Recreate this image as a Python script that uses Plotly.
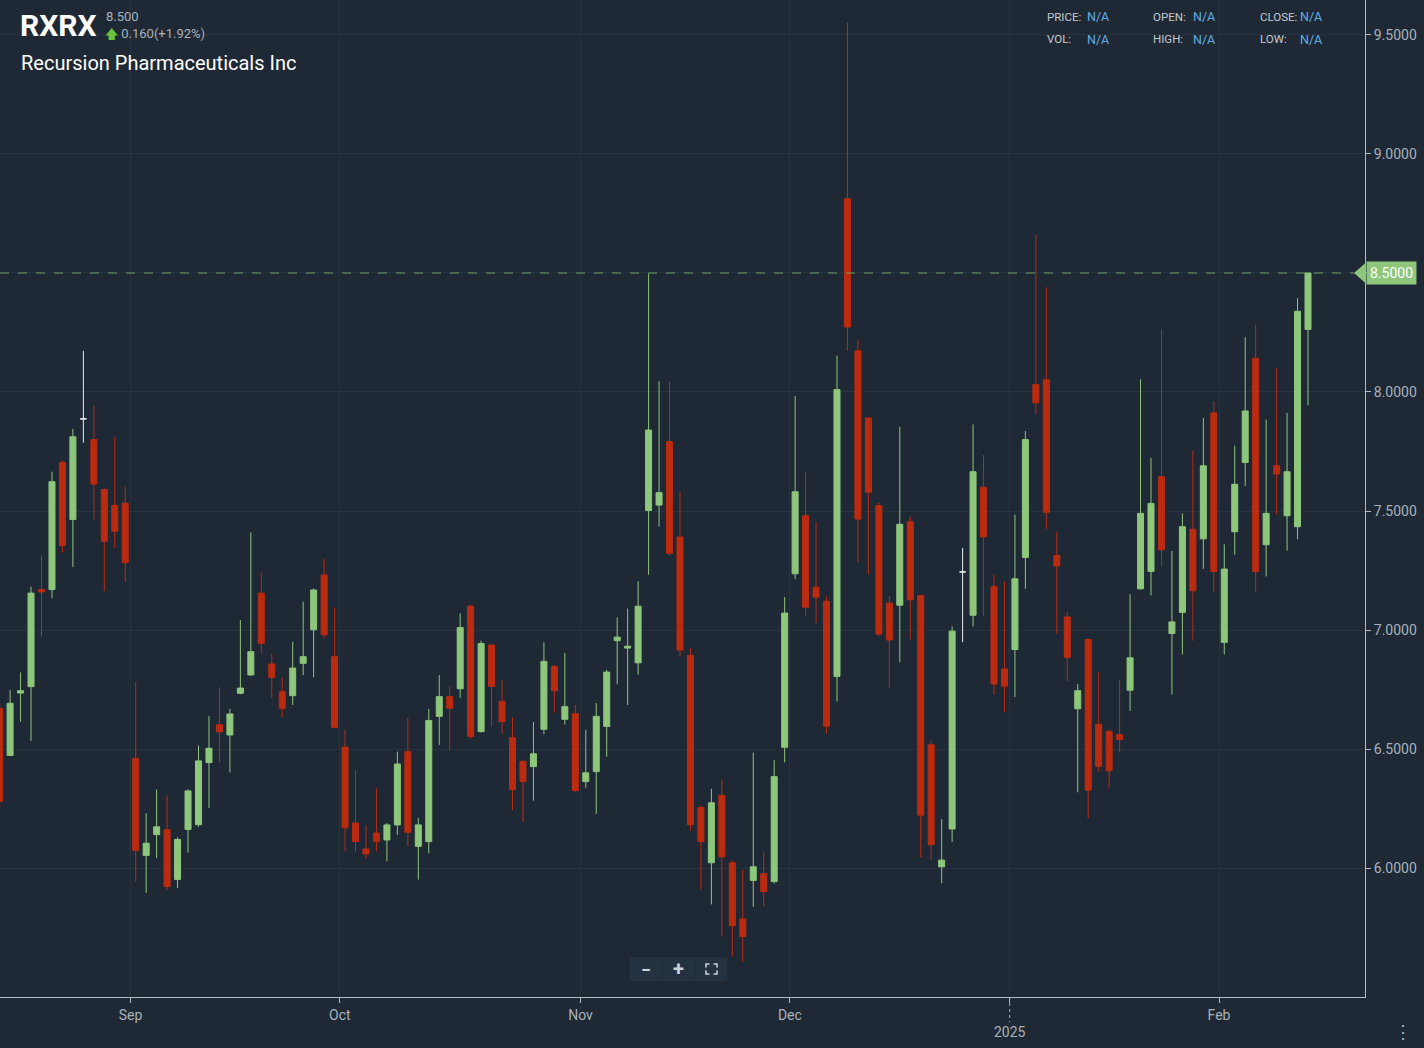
import pandas as pd
import plotly.graph_objects as go

# ---------------- data ----------------
holidays = ["2024-09-02", "2024-11-28", "2024-12-25", "2025-01-01", "2025-01-09", "2025-01-20"]
dates = [d for d in pd.bdate_range("2024-08-14", "2025-02-13") if d.strftime("%Y-%m-%d") not in holidays]

opens = [6.67, 6.473, 6.735, 6.762, 7.170, 7.170, 7.703, 7.464, 7.887, 7.800,
         7.590, 7.523, 7.533, 6.461, 6.053, 6.140, 6.161, 5.952, 6.162, 6.182,
         6.443, 6.602, 6.559, 6.734, 6.811, 7.155, 6.857, 6.741, 6.724, 6.860,
         7.001, 7.231, 6.888, 6.508, 6.189, 6.080, 6.147, 6.118, 6.181, 6.489,
         6.091, 6.111, 6.637, 6.720, 6.753, 7.100, 6.573, 6.937, 6.700, 6.547,
         6.448, 6.426, 6.583, 6.847, 6.625, 6.648, 6.363, 6.405, 6.595, 6.955,
         6.924, 6.862, 7.502, 7.525, 7.792, 7.391, 6.894, 6.254, 6.022, 6.305,
         6.022, 5.786, 5.948, 5.976, 5.943, 6.507, 7.236, 7.480, 7.180, 7.121,
         6.805, 8.812, 8.173, 7.891, 7.522, 7.113, 7.104, 7.455, 7.145, 6.518,
         6.005, 6.164, 7.244, 7.062, 7.600, 7.182, 6.836, 6.918, 7.305, 8.031,
         8.051, 7.313, 7.055, 6.669, 6.960, 6.604, 6.573, 6.560, 6.747, 7.173,
         7.246, 7.644, 6.985, 7.074, 7.423, 7.383, 7.912, 6.948, 7.413, 7.704,
         8.142, 7.358, 7.690, 7.480, 7.434, 8.263]
highs = [6.69, 6.747, 6.822, 7.182, 7.313, 7.665, 7.712, 7.845, 8.173, 7.943,
         7.595, 7.812, 7.602, 6.782, 6.230, 6.330, 6.305, 6.129, 6.330, 6.515,
         6.639, 6.759, 6.668, 7.042, 7.410, 7.242, 6.899, 6.800, 6.951, 7.119,
         7.175, 7.298, 7.095, 6.580, 6.412, 6.181, 6.335, 6.189, 6.489, 6.630,
         6.210, 6.668, 6.811, 6.762, 7.070, 7.105, 6.955, 6.943, 6.790, 6.633,
         6.452, 6.613, 6.948, 6.852, 6.903, 6.685, 6.580, 6.693, 6.832, 7.053,
         7.090, 7.205, 8.496, 8.045, 8.042, 7.581, 6.924, 6.263, 6.333, 6.372,
         6.032, 5.993, 6.485, 6.066, 6.453, 7.138, 7.983, 7.663, 7.455, 7.141,
         8.153, 9.552, 8.220, 7.895, 7.534, 7.143, 7.854, 7.476, 7.148, 6.536,
         6.205, 7.015, 7.345, 7.864, 7.735, 7.233, 7.204, 7.485, 7.836, 8.660,
         8.440, 7.413, 7.076, 6.773, 6.965, 6.824, 6.582, 6.791, 7.150, 8.053,
         7.723, 8.263, 7.332, 7.490, 7.753, 7.891, 7.962, 7.360, 7.774, 8.230,
         8.282, 7.884, 8.101, 7.912, 8.394, 8.500]
lows = [6.25, 6.470, 6.615, 6.534, 6.972, 7.134, 7.325, 7.265, 7.787, 7.464,
        7.163, 7.344, 7.202, 5.941, 5.895, 6.042, 5.907, 5.915, 6.065, 6.173,
        6.252, 6.443, 6.402, 6.730, 6.808, 6.902, 6.713, 6.633, 6.685, 6.811,
        6.801, 6.965, 6.588, 6.070, 6.070, 6.038, 6.070, 6.028, 6.139, 6.091,
        5.951, 6.062, 6.517, 6.493, 6.715, 6.543, 6.570, 6.595, 6.562, 6.243,
        6.193, 6.283, 6.562, 6.652, 6.603, 6.320, 6.337, 6.228, 6.468, 6.772,
        6.685, 6.813, 7.232, 7.435, 7.312, 6.886, 6.157, 5.909, 5.847, 5.712,
        5.628, 5.606, 5.837, 5.837, 5.934, 6.444, 7.214, 7.062, 7.029, 6.566,
        6.700, 8.172, 7.285, 7.236, 6.975, 6.754, 6.864, 6.960, 6.045, 6.033,
        5.936, 6.109, 6.949, 7.015, 7.058, 6.727, 6.655, 6.718, 7.173, 7.904,
        7.425, 6.985, 6.785, 6.318, 6.209, 6.404, 6.335, 6.487, 6.660, 7.170,
        7.145, 7.267, 6.729, 6.897, 6.955, 7.257, 7.159, 6.897, 7.316, 7.605,
        7.159, 7.225, 7.483, 7.334, 7.381, 7.944]
closes = [6.28, 6.692, 6.745, 7.155, 7.160, 7.623, 7.355, 7.812, 7.887, 7.613,
          7.373, 7.415, 7.283, 6.074, 6.104, 6.173, 5.922, 6.120, 6.324, 6.450,
          6.503, 6.572, 6.647, 6.756, 6.909, 6.944, 6.801, 6.671, 6.840, 6.888,
          7.168, 6.980, 6.591, 6.169, 6.111, 6.059, 6.111, 6.181, 6.437, 6.150,
          6.181, 6.620, 6.720, 6.671, 7.010, 6.553, 6.943, 6.763, 6.615, 6.330,
          6.363, 6.480, 6.868, 6.745, 6.678, 6.325, 6.400, 6.637, 6.823, 6.970,
          6.932, 7.100, 7.840, 7.577, 7.322, 6.916, 6.182, 6.111, 6.274, 6.047,
          5.758, 5.712, 6.005, 5.901, 6.384, 7.071, 7.581, 7.096, 7.138, 6.596,
          8.010, 8.273, 7.466, 7.579, 6.983, 6.958, 7.444, 7.127, 6.222, 6.098,
          6.033, 6.995, 7.244, 7.665, 7.391, 6.773, 6.764, 7.215, 7.800, 7.955,
          7.495, 7.269, 6.885, 6.745, 6.327, 6.427, 6.409, 6.540, 6.883, 7.490,
          7.532, 7.337, 7.034, 7.434, 7.165, 7.690, 7.246, 7.256, 7.612, 7.920,
          7.246, 7.490, 7.655, 7.665, 8.339, 8.500]

month_keys = ["2024-09", "2024-10", "2024-11", "2024-12", "2025-01", "2025-02"]
month_labels = ["Sep", "Oct", "Nov", "Dec", "", "Feb"]
y_ticks = [6.0, 6.5, 7.0, 7.5, 8.0, 8.5, 9.0, 9.5]

last_price = 8.5

# ---------------- styling ----------------
BG = "#1e2935"
GRID = "#27333f"
GREEN = "#8ec67b"
RED = "#bb2b10"
AXIS = "#b4bcc3"
TXT = "#a9b1b9"
FONT = "Roboto"

PW, PH = 1365.0, 997.0
def px(x):
    return x / PW
def py(y):
    return (PH - y) / PH

n = len(closes)
xs = list(range(n))
labels = [d.strftime("%b %d, %Y") for d in dates[:n]]

inc = [i for i in xs if closes[i] > opens[i]]
dec = [i for i in xs if closes[i] < opens[i]]
doj = [i for i in xs if closes[i] == opens[i]]

def pick(arr, idx):
    return [arr[i] for i in idx]

fig = go.Figure()
for idx, col in [(inc, GREEN), (dec, RED), (doj, "#e8ecef")]:
    fig.add_trace(go.Candlestick(
        x=idx, open=pick(opens, idx), high=pick(highs, idx),
        low=pick(lows, idx), close=pick(closes, idx),
        text=pick(labels, idx),
        increasing=dict(line=dict(color=col, width=1), fillcolor=col),
        decreasing=dict(line=dict(color=col, width=1), fillcolor=col),
        whiskerwidth=0, showlegend=False,
    ))

# tick positions: between last day of previous month and first day of month
tickvals = []
for key in month_keys:
    first = next(i for i, d in enumerate(dates[:n]) if d.strftime("%Y-%m") == key)
    tickvals.append(first - 0.5)

xmin = 0.035
xmax = xmin + PW / 10.467

# the last-price tag sits over the 8.5 tick label, so leave that label blank
y_ticktext = ["" if abs(v - last_price) < 1e-9 else f"{v:.4f}" for v in y_ticks]

fig.update_layout(
    width=1424, height=1048,
    margin=dict(l=0, r=59, t=0, b=51),
    paper_bgcolor=BG, plot_bgcolor=BG,
    font=dict(family=FONT, color=TXT, size=14),
    boxgap=0.3, boxgroupgap=0.18,
    hovermode="x",
    xaxis=dict(
        range=[xmin, xmax], rangeslider=dict(visible=False),
        tickmode="array", tickvals=tickvals, ticktext=month_labels,
        showgrid=True, gridcolor=GRID, gridwidth=1,
        showline=True, linecolor=AXIS, linewidth=1,
        ticks="outside", ticklen=5, tickcolor=AXIS,
        tickfont=dict(size=14, color=TXT, family=FONT),
        zeroline=False, fixedrange=True,
    ),
    yaxis=dict(
        side="right", range=[5.458, 9.647],
        tickmode="array", tickvals=y_ticks, ticktext=y_ticktext,
        showgrid=True, gridcolor=GRID, gridwidth=1,
        showline=True, linecolor=AXIS, linewidth=1,
        ticks="outside", ticklen=5, tickcolor=AXIS,
        tickfont=dict(size=14, color=TXT, family=FONT),
        zeroline=False, fixedrange=True,
    ),
)

shapes = []
# title background hides grid behind header
shapes.append(dict(type="rect", xref="paper", yref="paper", x0=px(8), x1=px(306), y0=py(84), y1=py(0),
                   fillcolor=BG, line=dict(width=0), layer="between"))
# last price dashed line
shapes.append(dict(type="line", xref="paper", yref="y", x0=0, x1=px(1354), y0=last_price, y1=last_price,
                   line=dict(color="#6f9d66", width=1.2, dash="dash")))
# price tag pointer
shapes.append(dict(type="path", xref="paper", yref="paper",
                   path=f"M {px(1354)} {py(273)} L {px(1366)} {py(262.5)} L {px(1366)} {py(283.5)} Z",
                   fillcolor=GREEN, line=dict(width=0)))
# dotted year tick
jan_paper = (tickvals[4] - xmin) / (xmax - xmin)
shapes.append(dict(type="line", xref="paper", yref="paper", x0=jan_paper, x1=jan_paper,
                   y0=py(997), y1=py(1022), line=dict(color=TXT, width=1, dash="dot")))
# zoom control box
shapes.append(dict(type="rect", xref="paper", yref="paper", x0=px(630), x1=px(727), y0=py(981), y1=py(957),
                   fillcolor="#243140", line=dict(width=0)))
for sx in (662, 695):
    shapes.append(dict(type="line", xref="paper", yref="paper", x0=px(sx), x1=px(sx), y0=py(979), y1=py(959),
                       line=dict(color="#1f2a36", width=1)))
# fullscreen icon corners
cx0, cx1, cy0, cy1, a = 706, 717, 964, 974, 3.5
corners = [
    f"M {px(cx0)} {py(cy0 + a)} L {px(cx0)} {py(cy0)} L {px(cx0 + a)} {py(cy0)}",
    f"M {px(cx1 - a)} {py(cy0)} L {px(cx1)} {py(cy0)} L {px(cx1)} {py(cy0 + a)}",
    f"M {px(cx0)} {py(cy1 - a)} L {px(cx0)} {py(cy1)} L {px(cx0 + a)} {py(cy1)}",
    f"M {px(cx1 - a)} {py(cy1)} L {px(cx1)} {py(cy1)} L {px(cx1)} {py(cy1 - a)}",
]
for c in corners:
    shapes.append(dict(type="path", xref="paper", yref="paper", path=c, line=dict(color="#c9d0d6", width=1.6)))
fig.update_layout(shapes=shapes)

ann = []
def text(x, y, s, size, color, xanchor="left", yanchor="middle", family=FONT):
    ann.append(dict(xref="paper", yref="paper", x=px(x), y=py(y), text=s, showarrow=False,
                    xanchor=xanchor, yanchor=yanchor, font=dict(size=size, color=color, family=family)))

text(18, 25, "<b>RXRX</b>", 30, "#ffffff")
text(104, 16, "8.500", 13, TXT)
text(103, 33, "<span style='color:#6cc23a'>🡅</span> 0.160(+1.92%)", 13, TXT)
text(19, 63, "Recursion Pharmaceuticals Inc", 20, "#ffffff")

LBL = "#c3c9cf"
NA = "#5eaee6"
for x0, x1, lab_top, lab_bot in [(1045, 1085, "PRICE:", "VOL:"), (1151, 1191, "OPEN:", "HIGH:"), (1258, 1298, "CLOSE:", "LOW:")]:
    text(x0, 17, lab_top, 11.5, LBL)
    text(x0, 39, lab_bot, 11.5, LBL)
    text(x1, 17, "N/A", 12.5, NA)
    text(x1, 39, "N/A", 12.5, NA)

# price tag
ann.append(dict(xref="paper", yref="y", x=px(1366), y=last_price, text="8.5000", showarrow=False,
                xanchor="left", yanchor="middle", bgcolor=GREEN, borderpad=3,
                font=dict(size=14, color="#ffffff", family=FONT)))
# year label
ann.append(dict(xref="paper", yref="paper", x=jan_paper, y=py(1032), text="2025", showarrow=False,
                xanchor="center", yanchor="middle", font=dict(size=14, color=TXT, family=FONT)))
# zoom buttons
text(646, 969, "<b>−</b>", 18, "#c9d0d6", xanchor="center")
text(678, 969, "<b>+</b>", 20, "#c9d0d6", xanchor="center")
# menu dots
text(1403, 1031, "⋮", 18, TXT, xanchor="center")

fig.update_layout(annotations=ann)

fig.write_html("out.html")
